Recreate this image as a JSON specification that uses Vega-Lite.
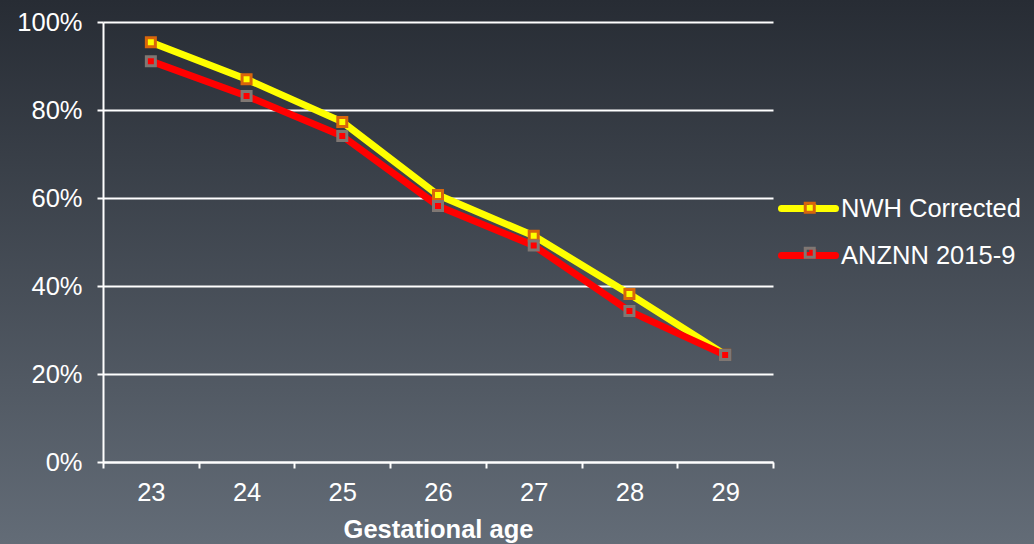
{
  "$schema": "https://vega.github.io/schema/vega-lite/v6.json",
  "width": 1034,
  "height": 544,
  "autosize": {"type": "none"},
  "padding": 0,
  "config": {
    "font": "Liberation Sans",
    "view": {"stroke": null, "fill": {"gradient": "linear", "x1": 0, "y1": 0, "x2": 0, "y2": 1, "stops": [{"offset": 0, "color": "#272c34"}, {"offset": 1, "color": "#636c77"}]}},
    "axis": {
      "domainColor": "#ffffff", "domainWidth": 2,
      "tickColor": "#ffffff", "tickWidth": 2, "tickSize": 6,
      "gridColor": "#ffffff", "gridWidth": 2,
      "labelColor": "#ffffff", "labelFontSize": 25.5, "labelFont": "Liberation Sans",
      "titleColor": "#ffffff", "titleFont": "Liberation Sans"
    },
    "legend": {"labelColor": "#ffffff", "labelFontSize": 25.5, "labelFont": "Liberation Sans", "labelLimit": 0}
  },
  "data": {
    "values": [
      {"age": "23", "series": "NWH Corrected", "value": 0.954},
      {"age": "24", "series": "NWH Corrected", "value": 0.870},
      {"age": "25", "series": "NWH Corrected", "value": 0.773},
      {"age": "26", "series": "NWH Corrected", "value": 0.607},
      {"age": "27", "series": "NWH Corrected", "value": 0.514},
      {"age": "28", "series": "NWH Corrected", "value": 0.382},
      {"age": "29", "series": "NWH Corrected", "value": 0.244},
      {"age": "23", "series": "ANZNN 2015-9", "value": 0.911},
      {"age": "24", "series": "ANZNN 2015-9", "value": 0.832},
      {"age": "25", "series": "ANZNN 2015-9", "value": 0.741},
      {"age": "26", "series": "ANZNN 2015-9", "value": 0.582},
      {"age": "27", "series": "ANZNN 2015-9", "value": 0.492},
      {"age": "28", "series": "ANZNN 2015-9", "value": 0.343},
      {"age": "29", "series": "ANZNN 2015-9", "value": 0.243}
    ]
  },
  "encoding": {
    "x": {
      "field": "age", "type": "ordinal",
      "scale": {"paddingInner": 0, "paddingOuter": 0, "range": [103, 773]},
      "axis": {"offset": -82, "labelAngle": 0, "tickBand": "extent", "labelPadding": 12, "title": "Gestational age", "titleFontSize": 25.5, "titleFontWeight": "bold", "titlePadding": 12, "grid": false}
    },
    "y": {
      "field": "value", "type": "quantitative",
      "scale": {"domain": [0, 1], "range": [462, 22]},
      "axis": {"offset": -103, "values": [0, 0.2, 0.4, 0.6, 0.8, 1], "format": ".0%", "labelPadding": 15, "title": null, "grid": true}
    }
  },
  "layer": [
    {
      "mark": {"type": "line", "strokeWidth": 7, "strokeJoin": "round"},
      "encoding": {
        "color": {
          "field": "series", "type": "nominal",
          "scale": {"domain": ["NWH Corrected", "ANZNN 2015-9"], "range": ["#ffff00", "#ff0000"]},
          "legend": {"orient": "none", "legendX": 778, "legendY": 178, "title": null, "symbolType": "stroke", "symbolSize": 2916, "symbolStrokeWidth": 7, "labelOffset": 2, "rowPadding": 2,
            "encode": {"symbols": {"update": {"strokeCap": {"value": "round"}}}}}
        }
      }
    },
    {
      "mark": {"type": "point", "shape": "square", "filled": true, "size": 81, "strokeWidth": 3, "opacity": 1},
      "encoding": {
        "fill": {
          "field": "series", "type": "nominal",
          "sort": ["NWH Corrected", "ANZNN 2015-9"],
          "scale": {"range": ["#ffff00", "#ff0000"]},
          "legend": {"orient": "none", "legendX": 800, "legendY": 195, "title": null, "symbolType": "square", "symbolSize": 49, "symbolStrokeWidth": 0, "labelExpr": "''", "rowPadding": 18}
        },
        "stroke": {
          "field": "series", "type": "nominal",
          "sort": "descending",
          "scale": {"range": ["#d9650b", "#7f7773"]},
          "legend": {"orient": "none", "legendX": 797, "legendY": 195, "title": null, "symbolType": "square", "symbolSize": 81, "symbolStrokeWidth": 3, "symbolFillColor": "transparent", "labelExpr": "''", "rowPadding": 18}
        }
      }
    }
  ]
}
